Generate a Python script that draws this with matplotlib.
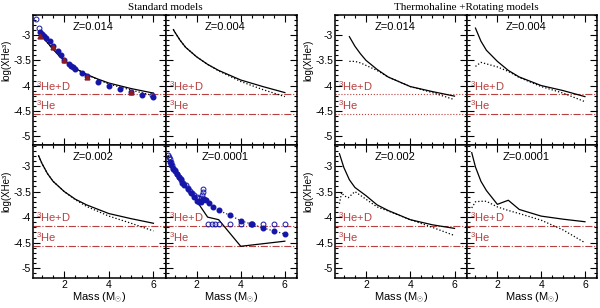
import matplotlib
matplotlib.use("Agg")
import matplotlib.pyplot as plt
from matplotlib.ticker import MultipleLocator, FixedLocator

# ---------------- data ----------------
# Standard models
std014_mass = [0.85, 1.0, 1.25, 1.5, 1.75, 2.0, 2.5, 3.0, 3.5, 4.0, 5.0, 6.0]
std014_solid = [-2.95, -3.02, -3.15, -3.28, -3.40, -3.50, -3.66, -3.78, -3.87, -3.95, -4.06, -4.15]
std014_dot = [-2.95, -3.02, -3.15, -3.28, -3.40, -3.50, -3.66, -3.78, -3.88, -3.97, -4.09, -4.20]

obs014_fill_m = [0.9, 1.0, 1.1, 1.2, 1.35, 1.5, 1.7, 1.85, 2.0, 2.2, 2.3, 2.4, 2.5, 2.8, 3.0, 3.5, 4.0, 4.5, 5.0, 5.5, 6.0]
obs014_fill_v = [-2.93, -2.97, -3.01, -3.05, -3.12, -3.22, -3.32, -3.40, -3.50, -3.57, -3.61, -3.64, -3.67, -3.76, -3.82, -3.92, -4.00, -4.06, -4.12, -4.18, -4.23]
obs014_open_m = [0.75, 0.88, 5.95]
obs014_open_v = [-2.68, -2.85, -4.19]
obs014_tri_m = [0.92, 1.5, 2.0, 3.0, 5.0]
obs014_tri_v = [-3.01, -3.24, -3.50, -3.84, -4.12]

std004_mass = [0.95, 1.0, 1.25, 1.5, 2.0, 2.5, 3.0, 4.0, 5.0, 6.0]
std004_solid = [-2.89, -2.93, -3.10, -3.24, -3.43, -3.58, -3.70, -3.89, -4.02, -4.14]
std004_dot = [-2.89, -2.93, -3.10, -3.24, -3.43, -3.58, -3.71, -3.92, -4.08, -4.22]

std002_mass = [0.85, 1.0, 1.25, 1.5, 2.0, 2.5, 3.0, 4.0, 5.0, 6.0]
std002_solid = [-2.80, -2.95, -3.15, -3.30, -3.50, -3.65, -3.76, -3.93, -4.03, -4.12]
std002_dot = [-2.80, -2.95, -3.15, -3.30, -3.50, -3.66, -3.79, -3.98, -4.12, -4.27]

std0001_mass = [1.95, 2.5, 3.0, 4.0, 6.0]
std0001_solid = [-3.65, -4.00, -4.05, -4.57, -4.47]

obs0001_fill_m = [0.78, 0.85, 0.93, 1.0, 1.13, 1.2, 1.28, 1.36, 1.45, 1.59, 1.74, 1.89, 2.04, 2.12, 2.19, 2.26, 2.34, 2.42, 2.57, 2.75, 3.0, 3.5, 4.0, 4.45, 4.5, 5.0, 5.5, 6.0]
obs0001_fill_v = [-2.93, -2.99, -3.05, -3.10, -3.16, -3.21, -3.26, -3.34, -3.38, -3.45, -3.53, -3.61, -3.68, -3.70, -3.71, -3.66, -3.65, -3.67, -3.72, -3.80, -3.87, -3.96, -4.07, -4.13, -4.14, -4.21, -4.27, -4.33]
obs0001_open_m = [0.7, 0.75, 0.8, 0.85, 0.9, 0.95, 1.0, 1.1, 1.2, 1.3, 1.4, 1.5, 1.6, 1.7, 1.8, 1.9, 2.0, 2.1, 2.2, 2.25, 2.3, 2.3,
                  2.5, 2.7, 2.85, 3.0, 3.5, 4.0, 4.5, 5.0, 5.5, 6.0]
obs0001_open_v = [-2.78, -2.82, -2.87, -2.93, -2.98, -3.03, -3.07, -3.15, -3.22, -3.28, -3.33, -3.38, -3.43, -3.48, -3.52, -3.57, -3.60, -3.62, -3.62, -3.56, -3.50, -3.45,
                  -4.14, -4.14, -4.14, -4.14, -4.14, -4.14, -4.14, -4.14, -4.14, -4.14]

# Thermohaline + rotating models
tr014_mass = [1.25, 1.5, 1.75, 2.0, 2.5, 3.0, 4.0, 5.0, 6.0]
tr014_solid = [-3.03, -3.22, -3.37, -3.50, -3.68, -3.83, -4.02, -4.12, -4.21]
tr014_dot = [-3.52, -3.52, -3.55, -3.60, -3.70, -3.83, -4.02, -4.14, -4.28]

tr004_mass = [1.0, 1.25, 1.5, 2.0, 2.5, 3.0, 4.0, 5.0, 6.0]
tr004_solid = [-2.86, -3.12, -3.30, -3.52, -3.70, -3.83, -4.00, -4.10, -4.22]
tr004_dot = [-3.62, -3.54, -3.57, -3.63, -3.72, -3.84, -4.02, -4.15, -4.32]

tr002_mass = [0.8, 1.0, 1.25, 1.5, 2.0, 2.5, 3.0, 4.0, 5.0, 6.0]
tr002_solid = [-2.76, -3.03, -3.27, -3.42, -3.58, -3.76, -3.87, -4.05, -4.15, -4.22]
tr002_dot_m = [0.8, 0.9, 1.0, 1.2, 1.5, 2.0, 2.5, 3.0, 4.0, 5.0, 6.0]
tr002_dot = [-3.74, -3.52, -3.58, -3.62, -3.50, -3.65, -3.80, -3.88, -4.05, -4.20, -4.36]

tr0001_mass = [0.83, 1.0, 1.25, 1.5, 2.0, 2.5, 3.0, 4.0, 5.0, 6.0]
tr0001_solid = [-2.74, -3.02, -3.30, -3.48, -3.75, -3.67, -3.85, -3.98, -4.04, -4.09]
tr0001_dot = [-3.82, -3.70, -3.69, -3.69, -3.80, -3.87, -3.93, -4.06, -4.25, -4.50]

he3d_level = -4.17
he3_level = -4.56

# ---------------- figure ----------------
plt.rcParams['font.family'] = ['Liberation Sans', 'DejaVu Sans']
plt.rcParams['mathtext.fontset'] = 'custom'
plt.rcParams['mathtext.rm'] = 'Liberation Sans'
plt.rcParams['mathtext.it'] = 'Liberation Sans:italic'
plt.rcParams['axes.unicode_minus'] = False
fig = plt.figure(figsize=(6.0, 3.08), dpi=100)

W, H = 600.0, 308.0
lefts = [(33, 165.7, 297), (335, 466.7, 597)]
ytop, ymid, ybot = 14.5, 145.0, 277.5

XLIM = (0.6, 6.55)
YLIM = (-5.18, -2.59)
red = '#b8403f'
blue = '#1515a8'
dred = '#8a1c24'
FS = 8


def make_ax(x0, x1, y0, y1):
    ax = fig.add_axes([x0 / W, 1 - y1 / H, (x1 - x0) / W, (y1 - y0) / H])
    ax.set_xlim(*XLIM)
    ax.set_ylim(*YLIM)
    ax.xaxis.set_major_locator(FixedLocator([2, 4, 6]))
    ax.xaxis.set_minor_locator(MultipleLocator(0.5))
    ax.yaxis.set_major_locator(MultipleLocator(0.5))
    ax.yaxis.set_minor_locator(MultipleLocator(0.1))
    ax.tick_params(which='both', direction='in', top=True, right=True, labelsize=7.5, width=0.8, pad=1.5)
    ax.tick_params(which='major', length=5)
    ax.tick_params(which='minor', length=2.5)
    for s in ax.spines.values():
        s.set_linewidth(1.1)
    ax.yaxis.set_major_formatter(plt.FuncFormatter(lambda v, p: '%g' % v))
    return ax


axes = {}
for g, (a, b, c) in enumerate(lefts):
    for r, (y0, y1) in enumerate([(ytop, ymid), (ymid, ybot)]):
        for col, (x0, x1) in enumerate([(a, b), (b, c)]):
            ax = make_ax(x0, x1, y0, y1)
            axes[(g, r, col)] = ax
            if col == 1:
                ax.tick_params(labelleft=False)
            else:
                fig.text((a - 26.5) / W, 1 - (y0 + 0.35 * (y1 - y0)) / H, 'log(XHe\u00b3)',
                         rotation=90, ha='center', va='center', fontsize=7)
            if r == 0:
                ax.tick_params(labelbottom=False)
            else:
                fig.text(((x0 + x1) / 2) / W, 1 - 297.5 / H, 'Mass (M$_{\\odot}$)',
                         ha='center', va='center', fontsize=FS)


def ref_lines(ax, ls):
    ax.axhline(he3d_level, color=red, lw=0.8, ls=ls)
    ax.axhline(he3_level, color=red, lw=0.8, ls=ls)
    ax.text(0.74, he3d_level + 0.03, '$^3$He+D', color=red, fontsize=FS, va='bottom', ha='left')
    ax.text(0.74, he3_level + 0.03, '$^3$He', color=red, fontsize=FS, va='bottom', ha='left')


def zlabel(ax, s):
    ax.text(3.3, -2.83, s, fontsize=FS, ha='center', va='center')


# Standard Z=0.014
ax = axes[(0, 0, 0)]
ref_lines(ax, '-.')
ax.plot(std014_mass, std014_dot, color='k', ls=':', lw=0.9)
ax.plot(std014_mass, std014_solid, color='k', lw=0.9)
ax.plot(obs014_fill_m, obs014_fill_v, 'o', color=blue, ms=3.3, mec=blue)
ax.plot(obs014_tri_m, obs014_tri_v, '^', color=dred, ms=3.5)
ax.plot(obs014_open_m, obs014_open_v, 'o', mfc='none', mec=blue, ms=3.5, mew=0.7)
zlabel(ax, 'Z=0.014')

# Standard Z=0.004
ax = axes[(0, 0, 1)]
ref_lines(ax, '-.')
ax.plot(std004_mass, std004_dot, color='k', ls=':', lw=0.9)
ax.plot(std004_mass, std004_solid, color='k', lw=0.9)
zlabel(ax, 'Z=0.004')

# Standard Z=0.002
ax = axes[(0, 1, 0)]
ref_lines(ax, '-.')
ax.plot(std002_mass, std002_dot, color='k', ls=':', lw=0.9)
ax.plot(std002_mass, std002_solid, color='k', lw=0.9)
zlabel(ax, 'Z=0.002')

# Standard Z=0.0001
ax = axes[(0, 1, 1)]
ref_lines(ax, '-.')
ax.plot(std0001_mass, std0001_solid, color='k', lw=0.9)
ax.plot(obs0001_fill_m, obs0001_fill_v, ':', color='#20206a', lw=0.9)
ax.plot(obs0001_fill_m, obs0001_fill_v, 'o', color=blue, ms=3.3, mec=blue)
ax.plot(obs0001_open_m, obs0001_open_v, 'o', mfc='none', mec=blue, ms=3.5, mew=0.7)
zlabel(ax, 'Z=0.0001')

# Thermohaline Z=0.014
ax = axes[(1, 0, 0)]
ref_lines(ax, ':')
ax.plot(tr014_mass, tr014_dot, color='k', ls=':', lw=0.9)
ax.plot(tr014_mass, tr014_solid, color='k', lw=0.9)
zlabel(ax, 'Z=0.014')

ax = axes[(1, 0, 1)]
ref_lines(ax, '-.')
ax.plot(tr004_mass, tr004_dot, color='k', ls=':', lw=0.9)
ax.plot(tr004_mass, tr004_solid, color='k', lw=0.9)
zlabel(ax, 'Z=0.004')

ax = axes[(1, 1, 0)]
ref_lines(ax, '-.')
ax.plot(tr002_dot_m, tr002_dot, color='k', ls=':', lw=0.9)
ax.plot(tr002_mass, tr002_solid, color='k', lw=0.9)
zlabel(ax, 'Z=0.002')

ax = axes[(1, 1, 1)]
ref_lines(ax, '-.')
ax.plot(tr0001_mass, tr0001_dot, color='k', ls=':', lw=0.9)
ax.plot(tr0001_mass, tr0001_solid, color='k', lw=0.9)
zlabel(ax, 'Z=0.0001')

fig.text(165 / W, 1 - 7.5 / H, 'Standard models', ha='center', va='center', fontsize=8, family='Liberation Serif')
fig.text(466 / W, 1 - 7.5 / H, 'Thermohaline +Rotating models', ha='center', va='center', fontsize=8, family='Liberation Serif')

fig.savefig('out.png', dpi=100)
